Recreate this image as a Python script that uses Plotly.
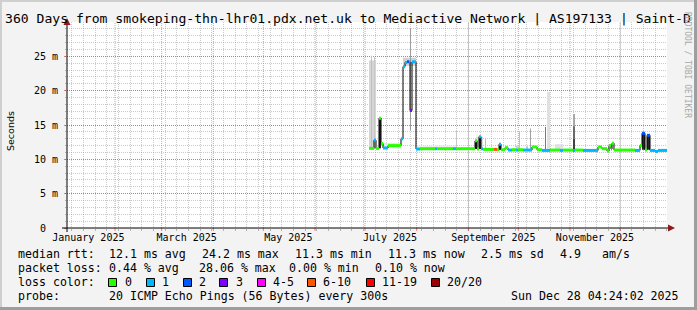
import plotly.graph_objects as go
import pandas as pd

# ---------------- data ----------------
x_range = ["2025-01-03 04:48", "2025-12-29 04:48"]
data_end = "2025-12-29 04:48"

# median rtt segments (start time, median ms, loss class index)
med_start = [
    "2025-07-03 09:36", "2025-07-06 09:36", "2025-07-07 14:24", "2025-07-09 09:36",
    "2025-07-10 14:24", "2025-07-11 19:12", "2025-07-14 19:12", "2025-07-22 14:24",
    "2025-07-23 19:12", "2025-07-25 00:00", "2025-07-26 04:48", "2025-07-27 09:36",
    "2025-07-28 00:00", "2025-07-29 04:48", "2025-07-31 14:24", "2025-08-03 00:00",
    "2025-08-12 00:00", "2025-08-13 04:48", "2025-08-22 19:12", "2025-08-24 14:24",
    "2025-09-05 00:00", "2025-09-06 04:48", "2025-09-07 09:36", "2025-09-08 14:24",
    "2025-09-09 19:12", "2025-09-16 09:36", "2025-09-18 04:48", "2025-09-19 09:36",
    "2025-09-20 14:24", "2025-09-23 00:00", "2025-09-24 19:12", "2025-09-27 04:48",
    "2025-09-29 14:24", "2025-09-30 19:12", "2025-10-03 19:12", "2025-10-09 04:48",
    "2025-10-12 04:48", "2025-10-15 04:48", "2025-10-20 00:00", "2025-10-26 00:00",
    "2025-10-27 19:12", "2025-11-02 19:12", "2025-11-04 00:00", "2025-11-08 19:12",
    "2025-11-17 19:12", "2025-11-20 04:48", "2025-11-23 04:48", "2025-11-24 09:36",
    "2025-11-25 14:24", "2025-11-26 04:48", "2025-11-27 09:36", "2025-12-10 00:00",
    "2025-12-13 00:00", "2025-12-14 04:48", "2025-12-16 00:00", "2025-12-17 04:48",
    "2025-12-19 00:00", "2025-12-22 00:00", "2025-12-23 19:12",
]
med_ms = [
    11.6, 12.8, 11.6, 16.0, 12.3, 11.65, 12.0, 13.0,
    23.5, 24.1, 24.2, 24.2, 17.1, 24.2, 11.5, 11.55,
    11.55, 11.55, 11.55, 11.55, 12.7, 11.5, 13.3, 11.55,
    11.45, 11.45, 11.4, 12.2, 11.4, 11.7, 11.35, 11.4,
    11.35, 11.4, 11.35, 11.8, 11.4, 11.3, 11.35, 11.3,
    11.35, 11.3, 11.35, 11.3, 11.8, 11.55, 11.2, 12.0,
    11.5, 12.35, 11.35, 11.3, 12.0, 13.8, 11.35, 13.5,
    11.3, 11.15, 11.3,
]
med_loss = [
    0, 1, 0, 0, 0, 1, 0, 1,
    1, 1, 2, 1, 3, 1, 1, 0,
    1, 0, 1, 0, 0, 0, 1, 1,
    0, 5, 0, 1, 0, 0, 1, 0,
    1, 0, 1, 0, 0, 1, 0, 1,
    0, 1, 0, 1, 0, 0, 0, 0,
    1, 0, 0, 1, 0, 2, 0, 2,
    1, 1, 1,
]

# smoke (ping spread) blocks
smoke_start = [
    "2025-07-03 09:36", "2025-07-04 14:24", "2025-07-06 09:36", "2025-07-09 09:36",
    "2025-07-11 19:12", "2025-07-23 19:12", "2025-07-28 00:00", "2025-07-31 14:24",
    "2025-08-24 14:24", "2025-09-05 14:24", "2025-09-05 00:00", "2025-09-07 09:36",
    "2025-09-11 00:00", "2025-09-19 09:36", "2025-09-29 14:24", "2025-10-01 09:36",
    "2025-10-05 14:24", "2025-10-08 00:00", "2025-10-17 00:00", "2025-10-18 04:48",
    "2025-10-23 00:00", "2025-11-02 19:12", "2025-11-02 19:12", "2025-11-02 19:12",
    "2025-12-14 04:48", "2025-12-17 04:48",
]
smoke_end = [
    "2025-07-07 14:24", "2025-07-05 04:48", "2025-07-07 00:00", "2025-07-10 14:24",
    "2025-07-22 14:24", "2025-07-31 14:24", "2025-07-28 14:24", "2025-08-24 14:24",
    "2025-08-25 04:48", "2025-09-09 19:12", "2025-09-06 04:48", "2025-09-08 14:24",
    "2025-09-11 14:24", "2025-09-20 14:24", "2025-10-01 09:36", "2025-10-02 00:00",
    "2025-10-06 19:12", "2025-10-08 14:24", "2025-10-17 14:24", "2025-10-20 00:00",
    "2025-10-27 19:12", "2025-11-04 00:00", "2025-11-04 00:00", "2025-11-04 00:00",
    "2025-12-16 00:00", "2025-12-19 00:00",
]
smoke_lo = [
    11.5, 11.5, 11.5, 11.6, 11.6, 23.6, 14.2, 11.5,
    11.5, 11.5, 11.5, 11.5, 11.5, 11.4, 11.4, 11.4,
    11.4, 11.4, 11.4, 11.4, 11.4, 14.8, 13.0, 11.4,
    11.4, 11.4,
]
smoke_hi = [
    24.4, 25.1, 24.9, 16.0, 12.4, 24.8, 29.1, 12.0,
    14.2, 13.3, 12.7, 13.4, 13.1, 12.2, 12.0, 14.0,
    11.9, 14.5, 14.7, 19.8, 12.2, 16.6, 14.8, 13.0,
    13.8, 13.5,
]
smoke_density = [
    0.16, 0.25, 0.22, 0.85, 0.10, 0.18, 0.38, 0.07,
    0.22, 0.13, 0.85, 0.85, 0.25, 0.85, 0.18, 0.25,
    0.22, 0.36, 0.53, 0.12, 0.12, 0.34, 0.58, 0.75,
    0.85, 0.85,
]

loss_labels = ["0", "1", "2", "3", "4-5", "6-10", "11-19", "20/20"]
loss_colors = ["#26ff00", "#00b8ff", "#0059ff", "#7e00ff",
               "#ff00ff", "#ff5500", "#ff0000", "#a10000"]

x_labels = ["January 2025", "March 2025", "May 2025",
            "July 2025", "September 2025", "November 2025"]
x_label_at = ["2025-01-16", "2025-03-16", "2025-05-16",
              "2025-07-16", "2025-09-16", "2025-11-16"]
y_ticks = [0, 5, 10, 15, 20, 25]
y_tick_text = ["0\u00a0\u00a0", "5 m", "10 m", "15 m", "20 m", "25 m"]

title_text = ("360 Days from smokeping-thn-lhr01.pdx.net.uk to "
              "Mediactive Network | AS197133 | Saint-D")

legend_rows = [
    [("median rtt:", 16), ("12.1 ms avg", 107), ("24.2 ms max", 200),
     ("11.3 ms min", 293), ("11.3 ms now", 386), ("2.5 ms sd", 479),
     ("4.9", 558), ("am/s", 600)],
    [("packet loss:", 16), ("0.44 % avg", 107), ("28.06 % max", 197),
     ("0.00 % min", 287), ("0.10 % now", 373)],
    [("loss color:", 16)],
    [("probe:", 16), ("20 ICMP Echo Pings (56 Bytes) every 300s", 107)],
]
loss_swatch_x = [108, 146, 183, 219, 257, 307, 366, 431]
loss_label_x = [123, 160, 197, 234, 271, 321, 380, 445]
stamp_text = "Sun Dec 28 04:24:02 2025"

# ---------------- layout helpers ----------------
W, H = 697, 310
ML, MR, MT, MB = 67, 30, 22, 82
PW, PH = W - ML - MR, H - MT - MB


def px(x):
    return (x - ML) / PW


def py(y):
    return (H - MB - y) / PH


MONO = "DejaVu Sans Mono"
fig = go.Figure()

# smoke
s0 = pd.to_datetime(smoke_start)
s1 = pd.to_datetime(smoke_end)
centers = s0 + (s1 - s0) / 2
widths = [(b - a).total_seconds() * 1000 for a, b in zip(s0, s1)]


def gray(d):
    v = int(round(255 * (1 - d)))
    return f"rgb({v},{v},{v})"


fig.add_trace(go.Bar(
    x=centers, base=smoke_lo, y=[h - l for h, l in zip(smoke_hi, smoke_lo)],
    width=widths, marker=dict(color=[gray(d) for d in smoke_density], line=dict(width=0)),
    hoverinfo="skip", showlegend=False))

# median black line
mx = list(pd.to_datetime(med_start)) + [pd.to_datetime(data_end)]
my = med_ms + [med_ms[-1]]
fig.add_trace(go.Scatter(x=mx, y=my, mode="lines",
                         line=dict(color="#000000", width=1, shape="hv"),
                         hoverinfo="skip", showlegend=False))

# loss-coloured median
for c, col in enumerate(loss_colors):
    xs, ys = [], []
    for i, cl in enumerate(med_loss):
        if cl == c:
            xs += [mx[i], mx[i + 1], None]
            ys += [med_ms[i], med_ms[i], None]
    if xs:
        fig.add_trace(go.Scatter(x=xs, y=ys, mode="lines",
                                 line=dict(color=col, width=3),
                                 hoverinfo="skip", showlegend=False))

shapes = []
# month major grid + ticks
for d in pd.date_range("2025-02-01", "2025-12-01", freq="MS"):
    shapes.append(dict(type="line", xref="x", yref="paper", x0=d, x1=d, y0=0, y1=1,
                       layer="between",
                       line=dict(color="rgba(255,0,0,0.45)", width=1, dash="1px,1px")))
    shapes.append(dict(type="line", xref="x", yref="paper", x0=d, x1=d,
                       y0=-3 / PH, y1=0, line=dict(color="rgba(255,0,0,0.5)", width=1)))

# axes lines & arrows
shapes.append(dict(type="line", xref="paper", yref="paper", x0=px(62), x1=px(670),
                   y0=py(228), y1=py(228), line=dict(color="#000000", width=1)))
shapes.append(dict(type="line", xref="paper", yref="paper", x0=px(67), x1=px(67),
                   y0=py(232), y1=py(23), line=dict(color="#000000", width=1)))
shapes.append(dict(type="path", xref="paper", yref="paper",
                   path=f"M {px(668)} {py(224.5)} L {px(675)} {py(228)} L {px(668)} {py(231.5)} Z",
                   fillcolor="#8b1a1a", line=dict(width=0)))
shapes.append(dict(type="path", xref="paper", yref="paper",
                   path=f"M {px(63.5)} {py(25)} L {px(67)} {py(18)} L {px(70.5)} {py(25)} Z",
                   fillcolor="#8b1a1a", line=dict(width=0)))

# frame shading
shapes.append(dict(type="rect", xref="paper", yref="paper", x0=px(0), x1=px(W),
                   y0=py(0), y1=py(2), fillcolor="#cfcfcf", line=dict(width=0), layer="below"))
shapes.append(dict(type="rect", xref="paper", yref="paper", x0=px(0), x1=px(2),
                   y0=py(0), y1=py(H), fillcolor="#cfcfcf", line=dict(width=0), layer="below"))
shapes.append(dict(type="rect", xref="paper", yref="paper", x0=px(W - 3), x1=px(W),
                   y0=py(0), y1=py(H), fillcolor="#9e9e9e", line=dict(width=0)))
shapes.append(dict(type="rect", xref="paper", yref="paper", x0=px(0), x1=px(W),
                   y0=py(H - 3), y1=py(H), fillcolor="#9e9e9e", line=dict(width=0)))

# loss swatches
for sx, col in zip(loss_swatch_x, loss_colors):
    shapes.append(dict(type="rect", xref="paper", yref="paper",
                       x0=px(sx + 0.5), x1=px(sx + 8.5), y0=py(278.5), y1=py(286.5),
                       fillcolor=col, line=dict(color="#000000", width=1)))

annotations = []
annotations.append(dict(text=title_text, x=px(3), y=py(18), xref="paper", yref="paper",
                        xanchor="left", yanchor="middle", showarrow=False,
                        font=dict(family=MONO, size=13.1, color="#000000")))
row_y = [254, 268, 282, 296]
for r, row in enumerate(legend_rows):
    for txt, x in row:
        annotations.append(dict(text=txt, x=px(x), y=py(row_y[r]), xref="paper",
                                yref="paper", xanchor="left", yanchor="middle",
                                showarrow=False,
                                font=dict(family=MONO, size=11.6, color="#000000")))
for lx, lab in zip(loss_label_x, loss_labels):
    annotations.append(dict(text=lab, x=px(lx), y=py(282), xref="paper", yref="paper",
                            xanchor="left", yanchor="middle", showarrow=False,
                            font=dict(family=MONO, size=11.6, color="#000000")))
annotations.append(dict(text=stamp_text, x=px(681), y=py(296), xref="paper", yref="paper",
                        xanchor="right", yanchor="middle", showarrow=False,
                        font=dict(family=MONO, size=11.6, color="#000000")))
annotations.append(dict(text="Seconds", x=px(10), y=py(131), xref="paper", yref="paper",
                        xanchor="center", yanchor="middle", textangle=-90, showarrow=False,
                        font=dict(family="DejaVu Sans", size=9.5, color="#000000")))
annotations.append(dict(text="RRDTOOL / TOBI OETIKER", x=px(688), y=py(65), xref="paper",
                        yref="paper", xanchor="center", yanchor="middle", textangle=90,
                        showarrow=False,
                        font=dict(family=MONO, size=8, color="#a8a8a8")))

fig.update_layout(
    width=W, height=H, autosize=False,
    margin=dict(l=ML, r=MR, t=MT, b=MB, pad=0),
    paper_bgcolor="#f3f3f3", plot_bgcolor="#ffffff",
    barmode="overlay", showlegend=False,
    shapes=shapes, annotations=annotations,
    xaxis=dict(type="date", range=x_range, tickvals=x_label_at, ticktext=x_labels,
               ticks="", showgrid=False, zeroline=False, showline=False,
               tickfont=dict(family=MONO, size=10, color="#000000"),
               ticklabelstandoff=2,
               minor=dict(tick0="2025-01-06", dtick=7 * 86400000, showgrid=True,
                          gridcolor="rgba(150,150,150,0.5)", griddash="1px,1px",
                          gridwidth=1, ticks="outside", ticklen=2,
                          tickcolor="#b0b0b0")),
    yaxis=dict(range=[0, 30], tickvals=y_ticks, ticktext=y_tick_text,
               showgrid=True, gridcolor="rgba(255,0,0,0.45)", griddash="1px,1px",
               gridwidth=1, zeroline=False, showline=False,
               ticks="outside", ticklen=2, tickcolor="rgba(255,0,0,0.5)",
               ticklabelstandoff=4,
               tickfont=dict(family=MONO, size=10, color="#000000"),
               minor=dict(dtick=1, showgrid=True, gridcolor="rgba(150,150,150,0.5)",
                          griddash="1px,1px", gridwidth=1, ticks="outside",
                          ticklen=1, tickcolor="#b0b0b0")),
)

fig.write_html("out.html", config={"displayModeBar": False})
